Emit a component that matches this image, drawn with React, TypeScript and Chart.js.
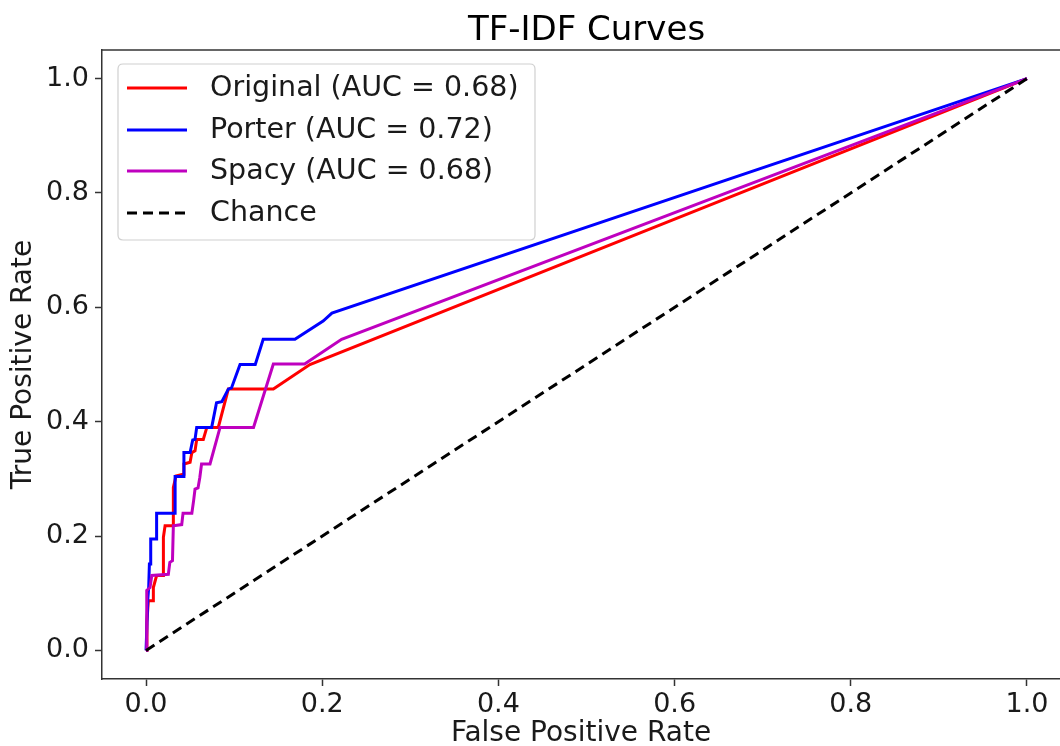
import React, { useEffect, useRef } from "react";
import { Chart, registerables } from "chart.js";

Chart.register(...registerables);

// ---------- data ----------
const TITLE = "TF-IDF Curves";
const X_LABEL = "False Positive Rate";
const Y_LABEL = "True Positive Rate";
const TICK_VALUES = [0, 0.2, 0.4, 0.6, 0.8, 1.0];
const TICK_LABELS = ["0.0", "0.2", "0.4", "0.6", "0.8", "1.0"];

const SERIES_NAMES = ["Original (AUC = 0.68)", "Porter (AUC = 0.72)", "Spacy (AUC = 0.68)", "Chance"];

const FPR_ORIGINAL = [0, 0.001, 0.0026, 0.0083, 0.0083, 0.012, 0.0197, 0.0197, 0.0216, 0.031, 0.031, 0.034, 0.042, 0.043, 0.05, 0.052, 0.0556, 0.0575, 0.065, 0.069, 0.082, 0.0934, 0.1445, 0.186, 1];
const TPR_ORIGINAL = [0, 0.05, 0.087, 0.087, 0.11, 0.131, 0.131, 0.198, 0.218, 0.218, 0.285, 0.305, 0.308, 0.326, 0.329, 0.346, 0.349, 0.369, 0.369, 0.39, 0.39, 0.457, 0.457, 0.5, 1];

const FPR_PORTER = [0, 0.002, 0.003, 0.0038, 0.0053, 0.0053, 0.012, 0.012, 0.033, 0.033, 0.043, 0.043, 0.05, 0.053, 0.0556, 0.0575, 0.0745, 0.08, 0.086, 0.0934, 0.097, 0.1067, 0.124, 0.133, 0.169, 0.201, 0.211, 1];
const TPR_PORTER = [0, 0.09, 0.11, 0.151, 0.151, 0.195, 0.195, 0.24, 0.24, 0.304, 0.304, 0.346, 0.346, 0.368, 0.369, 0.39, 0.39, 0.433, 0.435, 0.457, 0.459, 0.5, 0.5, 0.544, 0.544, 0.576, 0.59, 1];

const FPR_SPACY = [0, 0.0008, 0.0045, 0.0065, 0.0253, 0.027, 0.03, 0.031, 0.0405, 0.042, 0.052, 0.054, 0.0556, 0.059, 0.061, 0.063, 0.0726, 0.084, 0.122, 0.1445, 0.18, 0.222, 1];
const TPR_SPACY = [0, 0.105, 0.11, 0.131, 0.133, 0.154, 0.157, 0.218, 0.22, 0.24, 0.24, 0.262, 0.282, 0.284, 0.302, 0.326, 0.326, 0.39, 0.39, 0.501, 0.501, 0.544, 1];

const FPR_CHANCE = [0, 1];
const TPR_CHANCE = [0, 1];

// ---------- styles ----------
const COLORS = ["#ff0000", "#0000ff", "#bf00bf", "#000000"];
const FONT = "'DejaVu Sans', 'Liberation Sans', sans-serif";

const toPoints = (xs: number[], ys: number[]) => xs.map((x, i) => ({ x, y: ys[i] }));

const framePlugin = {
  id: "framePlugin",
  afterDraw(chart: any) {
    const { ctx, chartArea, scales } = chart;
    ctx.save();
    // top spine
    ctx.strokeStyle = "#333";
    ctx.lineWidth = 1.5;
    ctx.beginPath();
    ctx.moveTo(chartArea.left, chartArea.top);
    ctx.lineTo(chartArea.right, chartArea.top);
    ctx.stroke();

    // title, centred over the full (cropped) axes
    const cx = scales.x.getPixelForValue(0.5);
    ctx.fillStyle = "#000";
    ctx.font = `34px ${FONT}`;
    ctx.textAlign = "center";
    ctx.textBaseline = "middle";
    ctx.fillText(TITLE, cx, 31);

    // legend
    const bx = 118, by = 64, bw = 417, bh = 176, r = 5;
    ctx.beginPath();
    ctx.moveTo(bx + r, by);
    ctx.lineTo(bx + bw - r, by);
    ctx.quadraticCurveTo(bx + bw, by, bx + bw, by + r);
    ctx.lineTo(bx + bw, by + bh - r);
    ctx.quadraticCurveTo(bx + bw, by + bh, bx + bw - r, by + bh);
    ctx.lineTo(bx + r, by + bh);
    ctx.quadraticCurveTo(bx, by + bh, bx, by + bh - r);
    ctx.lineTo(bx, by + r);
    ctx.quadraticCurveTo(bx, by, bx + r, by);
    ctx.closePath();
    ctx.fillStyle = "rgba(255,255,255,0.8)";
    ctx.fill();
    ctx.strokeStyle = "#d0d0d0";
    ctx.lineWidth = 1.2;
    ctx.stroke();

    const rows = [88, 130, 171, 213];
    SERIES_NAMES.forEach((name, i) => {
      const y = rows[i];
      ctx.strokeStyle = COLORS[i];
      ctx.lineWidth = 3;
      ctx.setLineDash(i === 3 ? [10, 6] : []);
      ctx.beginPath();
      ctx.moveTo(127, y);
      ctx.lineTo(187, y);
      ctx.stroke();
      ctx.setLineDash([]);
      ctx.fillStyle = "#1a1a1a";
      ctx.font = `28.5px ${FONT}`;
      ctx.textAlign = "left";
      ctx.textBaseline = "middle";
      ctx.fillText(name, 210, y + 1);
    });
    ctx.restore();
  },
};

export default function App() {
  const canvasRef = useRef<HTMLCanvasElement | null>(null);

  useEffect(() => {
    if (!canvasRef.current) return;
    Chart.defaults.font.family = FONT;

    const makeLine = (label: string, xs: number[], ys: number[], color: string, order: number, dash: number[] = []) => ({
      label,
      data: toPoints(xs, ys),
      borderColor: color,
      backgroundColor: color,
      borderWidth: 3,
      borderDash: dash,
      pointRadius: 0,
      pointHoverRadius: 0,
      fill: false,
      tension: 0,
      showLine: true,
      order,
    });

    const tickCfg = (axisTitle: string, isX: boolean) => ({
      type: "linear" as const,
      min: -0.05,
      max: isX ? 1.0375 : 1.05,
      afterBuildTicks: (scale: any) => {
        scale.ticks = TICK_VALUES.map((v) => ({ value: v }));
      },
      afterFit: (scale: any) => {
        if (isX) scale.height = 67;
        else scale.width = 102;
      },
      ticks: {
        callback: (_v: any, index: number) => TICK_LABELS[index],
        font: { size: 27 },
        color: "#1a1a1a",
        padding: isX ? 3 : 6,
        autoSkip: false,
        maxRotation: 0,
      },
      grid: {
        drawOnChartArea: false,
        drawTicks: true,
        tickLength: 7,
        tickColor: "#333",
        tickWidth: 1.5,
      },
      border: { display: true, color: "#333", width: 1.5 },
      title: {
        display: true,
        text: axisTitle,
        color: "#1a1a1a",
        font: { size: 28, lineHeight: isX ? 0.85 : 1 },
        padding: isX ? { top: 0, bottom: 0 } : { top: 10, bottom: 0 },
      },
    });

    const chart = new Chart(canvasRef.current, {
      type: "line",
      data: {
        datasets: [
          makeLine(SERIES_NAMES[0], FPR_ORIGINAL, TPR_ORIGINAL, COLORS[0], 3),
          makeLine(SERIES_NAMES[1], FPR_PORTER, TPR_PORTER, COLORS[1], 2),
          makeLine(SERIES_NAMES[2], FPR_SPACY, TPR_SPACY, COLORS[2], 1),
          makeLine(SERIES_NAMES[3], FPR_CHANCE, TPR_CHANCE, COLORS[3], 0, [10, 6]),
        ],
      },
      options: {
        responsive: false,
        animation: false,
        devicePixelRatio: 1,
        layout: { padding: { top: 50, right: 0, left: 0, bottom: 0 } },
        plugins: {
          legend: { display: false },
          title: { display: false },
          tooltip: { enabled: false },
        },
        scales: {
          x: tickCfg(X_LABEL, true),
          y: tickCfg(Y_LABEL, false),
        },
      },
      plugins: [framePlugin],
    });

    return () => chart.destroy();
  }, []);

  return (
    <div style={{ position: "fixed", left: 0, top: 0, width: 1060, height: 746, background: "#fff", overflow: "hidden" }}>
      <canvas ref={canvasRef} width={1060} height={746} style={{ width: 1060, height: 746, display: "block" }} />
    </div>
  );
}
